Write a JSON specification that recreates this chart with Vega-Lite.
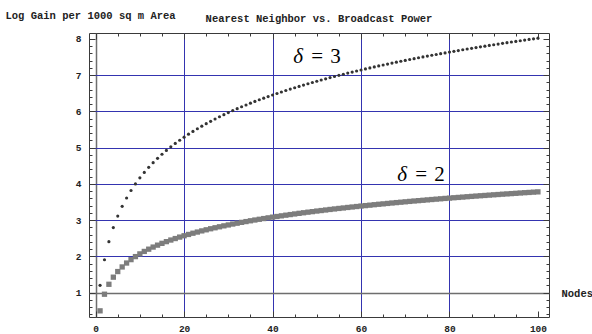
{
  "$schema": "https://vega.github.io/schema/vega-lite/v6.json",
  "autosize": {"type": "none"},
  "width": 460,
  "height": 284,
  "padding": {"left": 89, "top": 33, "right": 43, "bottom": 17},
  "background": "white",
  "view": {"stroke": "#3a3a3a", "strokeWidth": 1},
  "title": {
    "text": "Nearest Neighbor vs. Broadcast Power",
    "font": "Liberation Mono",
    "fontSize": 10.5,
    "fontWeight": "bold",
    "color": "#222",
    "anchor": "middle",
    "baseline": "alphabetic",
    "offset": 10,
    "dy": 32
  },
  "datasets": {
    "curves": [
      {"n":1,"d3":1.204,"d2":0.5},{"n":2,"d3":1.908,"d2":0.958},{"n":3,"d3":2.408,"d2":1.232},{"n":4,"d3":2.796,"d2":1.428},{"n":5,"d3":3.113,"d2":1.583},
      {"n":6,"d3":3.38,"d2":1.71},{"n":7,"d3":3.612,"d2":1.818},{"n":8,"d3":3.817,"d2":1.912},{"n":9,"d3":4.0,"d2":1.995},{"n":10,"d3":4.166,"d2":2.07},
      {"n":11,"d3":4.317,"d2":2.138},{"n":12,"d3":4.456,"d2":2.2},{"n":13,"d3":4.585,"d2":2.258},{"n":14,"d3":4.704,"d2":2.311},{"n":15,"d3":4.816,"d2":2.361},
      {"n":16,"d3":4.922,"d2":2.408},{"n":17,"d3":5.021,"d2":2.452},{"n":18,"d3":5.115,"d2":2.493},{"n":19,"d3":5.204,"d2":2.533},{"n":20,"d3":5.289,"d2":2.57},
      {"n":21,"d3":5.37,"d2":2.606},{"n":22,"d3":5.447,"d2":2.64},{"n":23,"d3":5.521,"d2":2.672},{"n":24,"d3":5.592,"d2":2.704},{"n":25,"d3":5.66,"d2":2.734},
      {"n":26,"d3":5.725,"d2":2.763},{"n":27,"d3":5.789,"d2":2.79},{"n":28,"d3":5.85,"d2":2.817},{"n":29,"d3":5.908,"d2":2.843},{"n":30,"d3":5.965,"d2":2.868},
      {"n":31,"d3":6.021,"d2":2.893},{"n":32,"d3":6.074,"d2":2.916},{"n":33,"d3":6.126,"d2":2.939},{"n":34,"d3":6.176,"d2":2.961},{"n":35,"d3":6.225,"d2":2.983},
      {"n":36,"d3":6.273,"d2":3.004},{"n":37,"d3":6.319,"d2":3.024},{"n":38,"d3":6.364,"d2":3.044},{"n":39,"d3":6.408,"d2":3.064},{"n":40,"d3":6.451,"d2":3.083},
      {"n":41,"d3":6.493,"d2":3.101},{"n":42,"d3":6.534,"d2":3.119},{"n":43,"d3":6.574,"d2":3.137},{"n":44,"d3":6.613,"d2":3.154},{"n":45,"d3":6.651,"d2":3.171},
      {"n":46,"d3":6.688,"d2":3.188},{"n":47,"d3":6.725,"d2":3.204},{"n":48,"d3":6.761,"d2":3.22},{"n":49,"d3":6.796,"d2":3.235},{"n":50,"d3":6.83,"d2":3.251},
      {"n":51,"d3":6.864,"d2":3.265},{"n":52,"d3":6.897,"d2":3.28},{"n":53,"d3":6.93,"d2":3.295},{"n":54,"d3":6.961,"d2":3.309},{"n":55,"d3":6.993,"d2":3.323},
      {"n":56,"d3":7.023,"d2":3.336},{"n":57,"d3":7.054,"d2":3.35},{"n":58,"d3":7.083,"d2":3.363},{"n":59,"d3":7.113,"d2":3.376},{"n":60,"d3":7.141,"d2":3.389},
      {"n":61,"d3":7.17,"d2":3.401},{"n":62,"d3":7.197,"d2":3.413},{"n":63,"d3":7.225,"d2":3.426},{"n":64,"d3":7.252,"d2":3.438},{"n":65,"d3":7.278,"d2":3.449},
      {"n":66,"d3":7.304,"d2":3.461},{"n":67,"d3":7.33,"d2":3.473},{"n":68,"d3":7.355,"d2":3.484},{"n":69,"d3":7.38,"d2":3.495},{"n":70,"d3":7.405,"d2":3.506},
      {"n":71,"d3":7.429,"d2":3.517},{"n":72,"d3":7.453,"d2":3.528},{"n":73,"d3":7.477,"d2":3.538},{"n":74,"d3":7.5,"d2":3.548},{"n":75,"d3":7.523,"d2":3.559},
      {"n":76,"d3":7.546,"d2":3.569},{"n":77,"d3":7.568,"d2":3.579},{"n":78,"d3":7.591,"d2":3.589},{"n":79,"d3":7.612,"d2":3.599},{"n":80,"d3":7.634,"d2":3.608},
      {"n":81,"d3":7.655,"d2":3.618},{"n":82,"d3":7.676,"d2":3.627},{"n":83,"d3":7.697,"d2":3.636},{"n":84,"d3":7.718,"d2":3.646},{"n":85,"d3":7.738,"d2":3.655},
      {"n":86,"d3":7.758,"d2":3.664},{"n":87,"d3":7.778,"d2":3.673},{"n":88,"d3":7.798,"d2":3.681},{"n":89,"d3":7.817,"d2":3.69},{"n":90,"d3":7.836,"d2":3.699},
      {"n":91,"d3":7.855,"d2":3.707},{"n":92,"d3":7.874,"d2":3.716},{"n":93,"d3":7.893,"d2":3.724},{"n":94,"d3":7.911,"d2":3.732},{"n":95,"d3":7.929,"d2":3.74},
      {"n":96,"d3":7.947,"d2":3.749},{"n":97,"d3":7.965,"d2":3.757},{"n":98,"d3":7.983,"d2":3.764},{"n":99,"d3":8.0,"d2":3.772},{"n":100,"d3":8.017,"d2":3.78}
    ],
    "labels": [
      {"lx": 44.7, "ly": 7.34, "num": "3"},
      {"lx": 68.2, "ly": 4.07, "num": "2"}
    ]
  },
  "resolve": {"axis": {"x": "independent", "y": "independent"}},
  "layer": [
    {
      "data": {"name": "curves"},
      "mark": {"type": "point", "shape": "square", "filled": true, "size": 28, "color": "#7d7d7d", "opacity": 1},
      "encoding": {
        "x": {
          "field": "n", "type": "quantitative",
          "scale": {"domain": [-1.5, 102.5], "nice": false, "zero": false},
          "axis": {
            "orient": "bottom",
            "values": [0,5,10,15,20,25,30,35,40,45,50,55,60,65,70,75,80,85,90,95,100],
            "labelExpr": "datum.value % 20 === 0 ? ('' + datum.value) : ''",
            "labelFont": "Liberation Mono", "labelFontSize": 9.5, "labelFontWeight": "bold", "labelColor": "#222",
            "labelPadding": 12, "labelOverlap": false, "labelFlush": false,
            "domain": false,
            "tickColor": "#3a3a3a",
            "tickSize": {"condition": {"test": "datum.value % 20 === 0", "value": -6}, "value": -3},
            "grid": true,
            "gridColor": {"condition": {"test": "datum.value === 0", "value": "#6e6e6e"}, "value": "#3434b0"},
            "gridWidth": {"condition": {"test": "datum.value === 0", "value": 1.5}, "value": 1},
            "gridOpacity": {"condition": {"test": "datum.value % 20 === 0 && datum.value < 100", "value": 1}, "value": 0},
            "title": "Nodes",
            "titleFont": "Liberation Mono", "titleFontSize": 10.5, "titleFontWeight": "bold", "titleColor": "#222",
            "titleX": 472, "titleY": -24, "titleAlign": "left", "titleBaseline": "middle", "titleAngle": 0
          }
        },
        "y": {
          "field": "d2", "type": "quantitative",
          "scale": {"domain": [0.33, 8.16], "nice": false, "zero": false},
          "axis": {
            "orient": "left",
            "values": [0.4,0.6,0.8,1,1.2,1.4,1.6,1.8,2,2.2,2.4,2.6,2.8,3,3.2,3.4,3.6,3.8,4,4.2,4.4,4.6,4.8,5,5.2,5.4,5.6,5.8,6,6.2,6.4,6.6,6.8,7,7.2,7.4,7.6,7.8,8],
            "labelExpr": "datum.value === round(datum.value) ? ('' + datum.value) : ''",
            "labelFont": "Liberation Mono", "labelFontSize": 9.5, "labelFontWeight": "bold", "labelColor": "#222",
            "labelPadding": 14, "labelOverlap": false, "labelFlush": false,
            "domain": false,
            "tickColor": "#3a3a3a",
            "tickSize": {"condition": {"test": "datum.value === round(datum.value)", "value": -6}, "value": -3},
            "grid": true,
            "gridColor": {"condition": {"test": "datum.value === 1", "value": "#6e6e6e"}, "value": "#3434b0"},
            "gridWidth": {"condition": {"test": "datum.value === 1", "value": 1.5}, "value": 1},
            "gridOpacity": {"condition": {"test": "datum.value === round(datum.value) && datum.value < 7.5", "value": 1}, "value": 0},
            "title": "Log Gain per 1000 sq m Area",
            "titleFont": "Liberation Mono", "titleFontSize": 10.5, "titleFontWeight": "bold", "titleColor": "#222",
            "titleX": -84, "titleY": -18, "titleAlign": "left", "titleBaseline": "middle", "titleAngle": 0
          }
        }
      }
    },
    {
      "data": {"name": "curves"},
      "mark": {"type": "point", "shape": "circle", "filled": true, "size": 10, "color": "#333333", "opacity": 1},
      "encoding": {
        "x": {
          "field": "n", "type": "quantitative",
          "axis": {
            "orient": "top",
            "values": [0,5,10,15,20,25,30,35,40,45,50,55,60,65,70,75,80,85,90,95,100],
            "labels": false, "domain": false, "grid": false, "title": null,
            "tickColor": "#3a3a3a",
            "tickSize": {"condition": {"test": "datum.value % 20 === 0", "value": -6}, "value": -3}
          }
        },
        "y": {
          "field": "d3", "type": "quantitative",
          "axis": {
            "orient": "right",
            "values": [0.4,0.6,0.8,1,1.2,1.4,1.6,1.8,2,2.2,2.4,2.6,2.8,3,3.2,3.4,3.6,3.8,4,4.2,4.4,4.6,4.8,5,5.2,5.4,5.6,5.8,6,6.2,6.4,6.6,6.8,7,7.2,7.4,7.6,7.8,8],
            "labels": false, "domain": false, "grid": false, "title": null,
            "tickColor": "#3a3a3a",
            "tickSize": {"condition": {"test": "datum.value === round(datum.value)", "value": -6}, "value": -3}
          }
        }
      }
    },
    {
      "data": {"name": "labels"},
      "mark": {"type": "text", "text": "δ", "font": "Liberation Serif", "fontStyle": "italic", "fontSize": 21, "align": "left", "baseline": "alphabetic", "color": "#000"},
      "encoding": {
        "x": {"field": "lx", "type": "quantitative", "axis": null},
        "y": {"field": "ly", "type": "quantitative", "axis": null}
      }
    },
    {
      "data": {"name": "labels"},
      "mark": {"type": "text", "text": "=", "font": "Liberation Serif", "fontSize": 21, "align": "left", "baseline": "alphabetic", "dx": 18, "color": "#000"},
      "encoding": {
        "x": {"field": "lx", "type": "quantitative", "axis": null},
        "y": {"field": "ly", "type": "quantitative", "axis": null}
      }
    },
    {
      "data": {"name": "labels"},
      "mark": {"type": "text", "font": "Liberation Serif", "fontSize": 21, "align": "left", "baseline": "alphabetic", "dx": 37, "color": "#000"},
      "encoding": {
        "x": {"field": "lx", "type": "quantitative", "axis": null},
        "y": {"field": "ly", "type": "quantitative", "axis": null},
        "text": {"field": "num"}
      }
    }
  ]
}
